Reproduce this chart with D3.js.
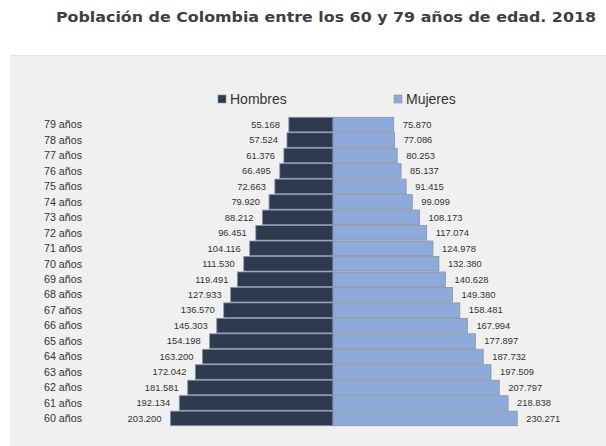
<!DOCTYPE html>
<html>
<head>
<meta charset="utf-8">
<script src="https://cdn.jsdelivr.net/npm/d3@7"></script>
<style>
  body { margin: 0; background: #fff; }
  svg { display: block; }
</style>
</head>
<body>
<div id="chart"></div>
<script>
// Data
const ages = ['79 años', '78 años', '77 años', '76 años', '75 años', '74 años', '73 años',
  '72 años', '71 años', '70 años', '69 años', '68 años', '67 años', '66 años', '65 años',
  '64 años', '63 años', '62 años', '61 años', '60 años'];
const hombres = [55168, 57524, 61376, 66495, 72663, 79920, 88212, 96451, 104116, 111530,
  119491, 127933, 136570, 145303, 154198, 163200, 172042, 181581, 192134, 203200];
const mujeres = [75870, 77086, 80253, 85137, 91415, 99099, 108173, 117074, 124978, 132380,
  140628, 149380, 158481, 167994, 177897, 187732, 197509, 207797, 218838, 230271];
const series = ['Hombres', 'Mujeres'];

const width = 606, height = 446;
const center = 333;
const fmt = v => d3.format(',')(v).replace(/,/g, '.');

const svg = d3.select('#chart').append('svg')
  .attr('width', width)
  .attr('height', height);

// title
svg.append('text')
  .attr('x', 326)
  .attr('y', 22)
  .attr('text-anchor', 'middle')
  .attr('textLength', 540)
  .attr('lengthAdjust', 'spacingAndGlyphs')
  .style('font-family', '"DejaVu Sans", sans-serif')
  .style('font-weight', 'bold')
  .style('font-size', '14.5px')
  .style('fill', '#404040')
  .text('Población de Colombia entre los 60 y 79 años de edad. 2018');

// grey panel
svg.append('rect')
  .attr('x', 10).attr('y', 55)
  .attr('width', width - 10).attr('height', height - 55)
  .attr('fill', '#f0f0f0');
svg.append('line')
  .attr('x1', 10).attr('x2', width)
  .attr('y1', 55.5).attr('y2', 55.5)
  .attr('stroke', '#e2e2e2');

const y = d3.scaleBand()
  .domain(ages)
  .range([117.3, 425.7])
  .paddingInner(0.06);

const x = d3.scaleLinear()
  .domain([0, 250000])
  .range([0, 200]);

const colors = { Hombres: '#2f3a4f', Mujeres: '#8eaadb' };
const strokes = { Hombres: '#7d90b3', Mujeres: '#8c939e' };

// male bars
svg.append('g').selectAll('rect')
  .data(ages)
  .join('rect')
  .attr('x', (d, i) => center - x(hombres[i]))
  .attr('y', d => y(d))
  .attr('width', (d, i) => x(hombres[i]))
  .attr('height', y.bandwidth())
  .attr('fill', colors.Hombres)
  .attr('stroke', strokes.Hombres)
  .attr('stroke-width', 0.8);

// female bars
svg.append('g').selectAll('rect')
  .data(ages)
  .join('rect')
  .attr('x', center)
  .attr('y', d => y(d))
  .attr('width', (d, i) => x(mujeres[i]))
  .attr('height', y.bandwidth())
  .attr('fill', colors.Mujeres)
  .attr('stroke', strokes.Mujeres)
  .attr('stroke-width', 0.8);

// age labels
svg.append('g').selectAll('text')
  .data(ages)
  .join('text')
  .attr('x', 44)
  .attr('y', d => y(d) + y.bandwidth() / 2)
  .attr('dy', '0.35em')
  .style('font-family', '"Liberation Sans", Arial, sans-serif')
  .style('font-size', '10.7px')
  .style('fill', '#333')
  .text(d => d);

// value labels
svg.append('g').selectAll('text')
  .data(ages)
  .join('text')
  .attr('x', (d, i) => center - x(hombres[i]) - 9)
  .attr('y', d => y(d) + y.bandwidth() / 2)
  .attr('dy', '0.35em')
  .attr('text-anchor', 'end')
  .style('font-family', '"Liberation Sans", Arial, sans-serif')
  .style('font-size', '9.4px')
  .style('fill', '#333')
  .text((d, i) => fmt(hombres[i]));

svg.append('g').selectAll('text')
  .data(ages)
  .join('text')
  .attr('x', (d, i) => center + x(mujeres[i]) + 9)
  .attr('y', d => y(d) + y.bandwidth() / 2)
  .attr('dy', '0.35em')
  .style('font-family', '"Liberation Sans", Arial, sans-serif')
  .style('font-size', '9.4px')
  .style('fill', '#333')
  .text((d, i) => fmt(mujeres[i]));

// legend
const legendX = [218, 394];
const legend = svg.append('g').selectAll('g')
  .data(series)
  .join('g')
  .attr('transform', (d, i) => `translate(${legendX[i]},95)`);
legend.append('rect')
  .attr('width', 8).attr('height', 8)
  .attr('fill', d => colors[d])
  .attr('stroke', d => strokes[d])
  .attr('stroke-width', 0.6);
legend.append('text')
  .attr('x', 12)
  .attr('y', 4)
  .attr('dy', '0.35em')
  .style('font-family', '"Liberation Sans", Arial, sans-serif')
  .style('font-size', '14px')
  .style('fill', '#333')
  .text(d => d);
</script>
</body>
</html>
